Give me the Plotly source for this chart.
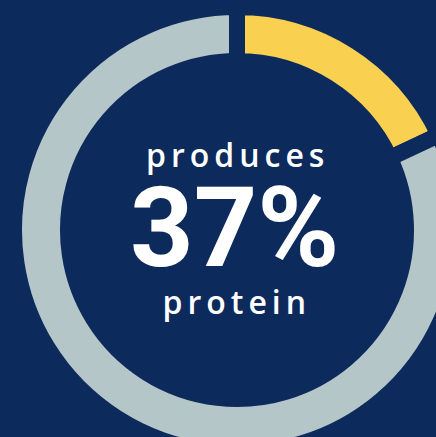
import plotly.graph_objects as go

# Data
labels = ["protein", "rest"]
values = [18, 82]
headline = "37%"
line_top = "produces"
line_bottom = "protein"

NAVY = "#0c2a5c"
YELLOW = "#f9d04f"
GREY = "#b4c6c7"

W, H = 474, 460
cx, cy, R = 237, 230, 223  # pixel centre and slice radius

fig = go.Figure(go.Pie(
    labels=labels,
    values=values,
    sort=False,
    direction="clockwise",
    rotation=0,
    hole=169 / 223,
    marker=dict(colors=[YELLOW, GREY], line=dict(color=NAVY, width=16)),
    textinfo="none",
    hoverinfo="skip",
    showlegend=False,
    domain=dict(x=[(cx - R) / W, (cx + R) / W],
                y=[(H - cy - R) / H, (H - cy + R) / H]),
))

def py(px):
    return 1 - px / H

fig.add_annotation(x=cx / W, y=py(155), xref="paper", yref="paper", text=line_top,
                   showarrow=False, xanchor="center", yanchor="middle",
                   font=dict(family="Open Sans", size=32, color="white", weight=600))
fig.add_annotation(x=(cx - 3) / W, y=py(228), xref="paper", yref="paper", text=headline,
                   showarrow=False, xanchor="center", yanchor="middle",
                   font=dict(family="Roboto", size=111, color="white", weight=700))
fig.add_annotation(x=cx / W, y=py(301), xref="paper", yref="paper", text=line_bottom,
                   showarrow=False, xanchor="center", yanchor="middle",
                   font=dict(family="Open Sans", size=32, color="white", weight=600))

fig.update_layout(
    width=W, height=H,
    margin=dict(l=0, r=0, t=0, b=0),
    paper_bgcolor=NAVY, plot_bgcolor=NAVY,
)

post = """
document.documentElement.style.overflow='hidden';
document.body.style.overflow='hidden';
document.body.style.background='%s';
var gd = document.getElementById('{plot_id}');
function sp(){
  document.querySelectorAll('.annotation-text').forEach(function(el){
    if (el.textContent !== '37%%') { el.style.letterSpacing = '5px'; }
  });
}
sp();
if (gd && gd.on) { gd.on('plotly_afterplot', sp); }
""" % NAVY

fig.write_html("out.html", post_script=post)
